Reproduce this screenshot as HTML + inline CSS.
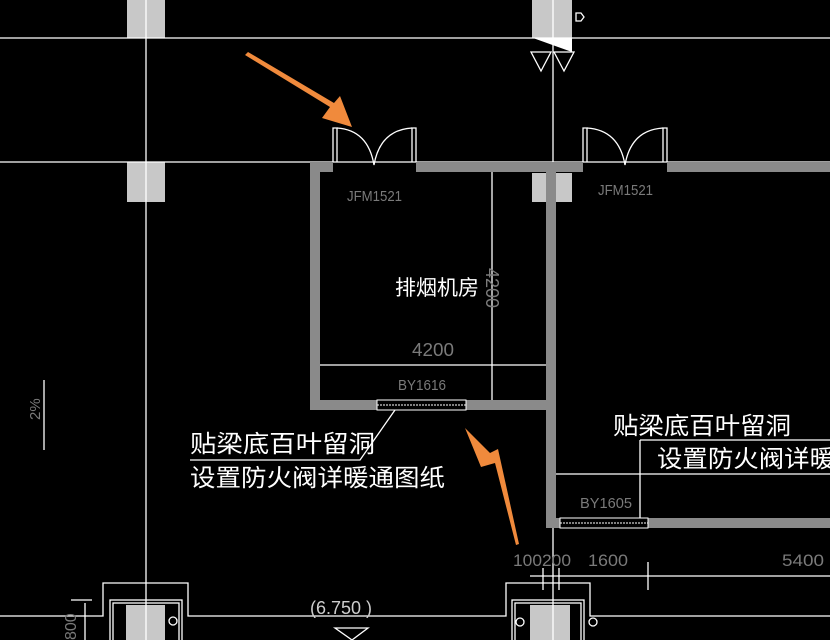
<!DOCTYPE html>
<html><head><meta charset="utf-8"><style>
html,body{margin:0;padding:0;background:#000;}
svg{display:block}
.g{fill:#7a7a7a;font-family:"Liberation Sans",sans-serif;}
.c{fill:#fff;font-family:"Liberation Sans","Noto Sans CJK SC",sans-serif;}
</style></head><body>
<svg width="830" height="640" viewBox="0 0 830 640" xmlns="http://www.w3.org/2000/svg">
<rect width="830" height="640" fill="#000"/>
<g fill="#c8c8c8">
<rect x="127" y="0" width="38" height="38"/>
<rect x="127" y="162" width="38" height="40"/>
<rect x="532" y="0" width="40" height="38"/>
<rect x="532" y="173" width="40" height="29"/>
<rect x="126" y="605" width="39" height="35"/>
<rect x="530" y="605" width="40" height="35"/>
</g>
<polygon points="533,38 572,38 572,52" fill="#fff"/>
<g stroke="#fff" stroke-width="1.3" fill="none">
<line x1="0" y1="38" x2="830" y2="38"/>
<line x1="0" y1="162" x2="830" y2="162"/>
<line x1="146" y1="0" x2="146" y2="640"/>
<line x1="553" y1="0" x2="553" y2="640"/>
<polygon points="531,52 551,52 541,71"/><polygon points="554,52 574,52 564,71"/>
<path d="M576,13 h5 l3,4 l-3,4 h-5 z"/>
<line x1="492" y1="172" x2="492" y2="400"/>
<line x1="320" y1="365" x2="546" y2="365"/>
<line x1="556" y1="474" x2="830" y2="474"/>
<line x1="640" y1="440" x2="640" y2="518"/>
<line x1="640" y1="440" x2="830" y2="440"/>
<path d="M333,162 V128 h4 V162"/><path d="M412,162 V128 h4 V162"/>
<path d="M337,128 Q368,130 374,165 Q380,130 412,128"/>
<path d="M583,162 V128 h4 V162"/><path d="M663,162 V128 h4 V162"/>
<path d="M587,128 Q619,130 625,165 Q631,130 663,128"/>
<path d="M190,460 H360 L395,410"/>
<line x1="530" y1="576" x2="830" y2="576"/>
<line x1="543" y1="568" x2="543" y2="590"/><line x1="559" y1="568" x2="559" y2="590"/><line x1="648" y1="562" x2="648" y2="590"/>
<path d="M0,616 H103 V583 H188 V616 H506 V583 H590 V616 H830"/>
<rect x="110" y="600" width="72" height="45"/><rect x="113" y="603" width="66" height="45"/>
<rect x="512" y="600" width="72" height="45"/><rect x="515" y="603" width="66" height="45"/>
<line x1="44" y1="380" x2="44" y2="450"/>
<line x1="71" y1="600" x2="92" y2="600"/><line x1="85" y1="603" x2="85" y2="640"/>
<polygon points="335,628 368,628 352,640"/>
<circle cx="520" cy="622" r="4"/><circle cx="173" cy="621" r="4"/><circle cx="593" cy="622" r="4"/>
</g>
<g fill="#8a8a8a">
<rect x="310" y="162" width="10" height="248"/>
<rect x="310" y="162" width="23" height="10"/>
<rect x="416" y="162" width="167" height="10"/>
<rect x="667" y="162" width="163" height="10"/>
<rect x="546" y="162" width="10" height="366"/>
<rect x="310" y="400" width="67" height="10"/>
<rect x="466" y="400" width="80" height="10"/>
<rect x="546" y="518" width="14" height="10"/>
<rect x="648" y="518" width="182" height="10"/>
</g>
<g stroke="#fff" stroke-width="1" fill="none">
<rect x="377" y="400" width="89" height="10"/><line x1="377" y1="405" x2="466" y2="405" stroke-dasharray="2,1"/>
<rect x="560" y="518" width="88" height="10"/><line x1="560" y1="523" x2="648" y2="523" stroke-dasharray="2,1"/>
</g>
<g class="g" font-size="15">
<text x="347" y="201" textLength="55" lengthAdjust="spacingAndGlyphs">JFM1521</text>
<text x="598" y="195" textLength="55" lengthAdjust="spacingAndGlyphs">JFM1521</text>
<text x="412" y="356" font-size="18" textLength="42" lengthAdjust="spacingAndGlyphs">4200</text>
<text x="398" y="390" textLength="48" lengthAdjust="spacingAndGlyphs">BY1616</text>
<text x="580" y="508" textLength="52" lengthAdjust="spacingAndGlyphs">BY1605</text>
<text x="513" y="566" font-size="17" textLength="58" lengthAdjust="spacingAndGlyphs">100200</text>
<text x="588" y="566" font-size="17" textLength="40" lengthAdjust="spacingAndGlyphs">1600</text>
<text x="782" y="566" font-size="17" textLength="42" lengthAdjust="spacingAndGlyphs">5400</text>
<text x="310" y="614" font-size="18" fill="#ccc">(6.750 )</text>
<text transform="translate(486,268) rotate(90)" font-size="18">4200</text>
<text transform="translate(40,420) rotate(-90)" font-size="15">2%</text>
<text transform="translate(76,640) rotate(-90)" font-size="16">800</text>
</g>
<g class="c">
<text x="395" y="295" font-size="21">排烟机房</text>
<text x="190" y="452" font-size="24" textLength="185" lengthAdjust="spacingAndGlyphs">贴梁底百叶留洞</text>
<text x="190" y="486" font-size="24" textLength="255" lengthAdjust="spacingAndGlyphs">设置防火阀详暖通图纸</text>
<text x="613" y="434" font-size="24" textLength="178" lengthAdjust="spacingAndGlyphs">贴梁底百叶留洞</text>
<text x="657" y="467" font-size="24" textLength="178" lengthAdjust="spacingAndGlyphs">设置防火阀详暖</text>
</g>
<g fill="#f08a3c">
<polygon points="245,55 330,107 322,118 352,127 340,96 334,103 248,52"/>
<polygon points="516,545 495,463 481,467 465,428 490,453 498,449 519,544"/>
</g>
</svg>
</body></html>
